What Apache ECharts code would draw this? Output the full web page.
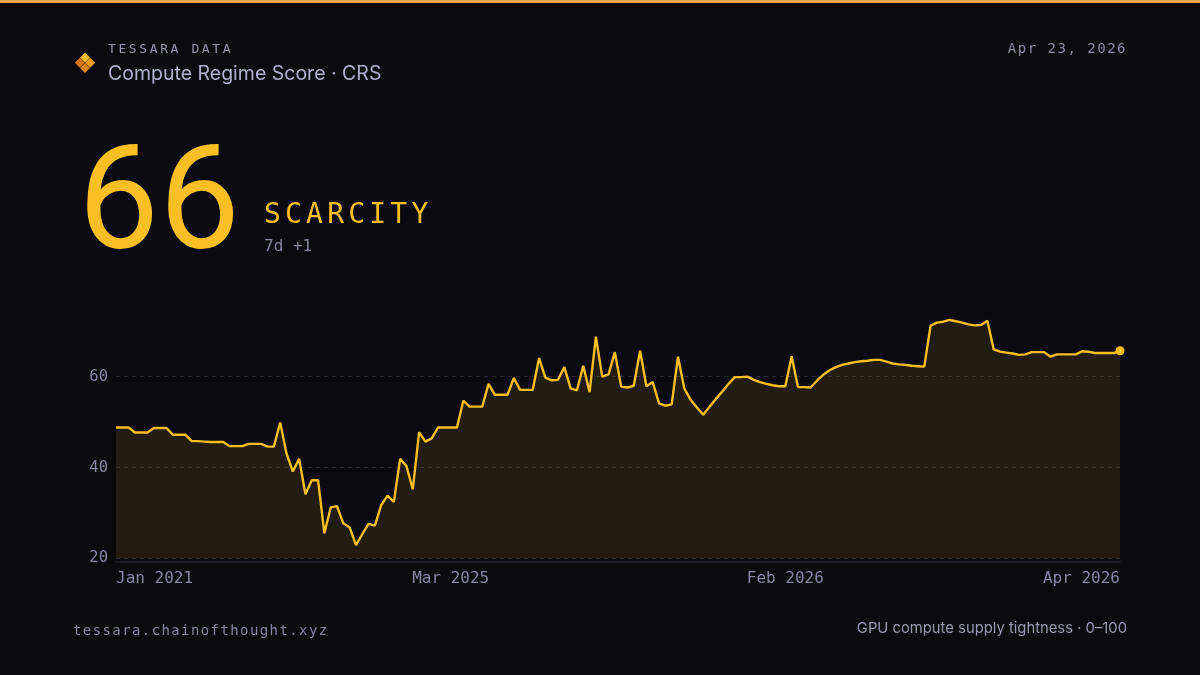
<!DOCTYPE html>
<html>
<head>
<meta charset="utf-8">
<script src="https://cdn.jsdelivr.net/npm/echarts@6/dist/echarts.min.js"></script>
<style>
  html, body { margin: 0; padding: 0; background: #0a0a0f; }
  #wrap { position: relative; width: 1200px; height: 675px; background: #0a0a0f; overflow: hidden; }
  #chart { position: absolute; left: 0; top: 0; width: 1200px; height: 675px; }
  .t { position: absolute; white-space: nowrap; line-height: 1; }
  .mono { font-family: "DejaVu Sans Mono", "Liberation Mono", monospace; }
  .sans { font-family: Inter, "Noto Sans", sans-serif; }
</style>
</head>
<body>
<div id="wrap">
  <div id="chart"></div>
  <div style="position:absolute;left:0;top:0;width:1200px;height:3px;background:#eaa84a;"></div>
  <div class="t mono" style="left:108px;top:42px;font-size:13px;letter-spacing:2.6px;color:#9595ad;">TESSARA DATA</div>
  <div class="t sans" style="left:108px;top:64px;font-size:19.5px;color:#b1b1cf;">Compute Regime Score · CRS</div>
  <div class="t mono" style="right:73px;top:41px;font-size:14px;letter-spacing:1.5px;color:#8b8ba3;">Apr 23, 2026</div>
  <div class="t" style="left:78px;top:127px;font-family:Roboto, 'Liberation Sans', sans-serif;font-weight:400;font-size:144px;color:#fbbf24;">66</div>
  <div class="t mono" style="left:264px;top:200px;font-size:28px;letter-spacing:4.2px;color:#fbbf24;">SCARCITY</div>
  <div class="t mono" style="left:264px;top:238px;font-size:16px;color:#8585a0;">7d +1</div>
  <div class="t mono" style="left:73px;top:623px;font-size:14px;letter-spacing:1.4px;color:#8585a0;">tessara.chainofthought.xyz</div>
  <div class="t sans" style="right:73px;top:621px;font-size:14.8px;color:#9a9ab2;">GPU compute supply tightness · 0–100</div>
</div>
<script>
// score readings, one per sample
var scores = [
  48.8, 48.8, 48.8, 47.7, 47.7, 47.7, 48.7, 48.7, 48.7, 47.2,
  47.2, 47.2, 45.8, 45.8, 45.7, 45.6, 45.6, 45.6, 44.7, 44.7,
  44.7, 45.2, 45.2, 45.2, 44.6, 44.6, 49.9, 43.1, 39.1, 41.9,
  34.1, 37.2, 37.2, 25.5, 31.2, 31.5, 27.7, 26.8, 22.9, 25.3,
  27.6, 27.2, 31.7, 33.8, 32.4, 41.9, 40.3, 35.2, 47.8, 45.7,
  46.4, 48.8, 48.8, 48.8, 48.8, 54.7, 53.4, 53.4, 53.4, 58.4,
  56.0, 56.0, 56.0, 59.7, 57.1, 57.1, 57.1, 64.1, 59.8, 59.2,
  59.3, 62.1, 57.4, 57.0, 62.4, 56.6, 68.8, 60.0, 60.5, 65.4,
  57.8, 57.6, 58.0, 65.7, 57.9, 58.8, 54.1, 53.6, 53.9, 64.4,
  57.4, 54.9, 53.2, 51.6, 53.4, 55.1, 56.7, 58.4, 59.9, 59.9,
  60.0, 59.3, 58.8, 58.4, 58.1, 57.9, 57.9, 64.5, 57.7, 57.7,
  57.6, 59.1, 60.4, 61.4, 62.1, 62.6, 62.9, 63.2, 63.4, 63.5,
  63.7, 63.7, 63.3, 62.9, 62.7, 62.6, 62.4, 62.3, 62.2, 71.2,
  71.9, 72.1, 72.5, 72.2, 71.9, 71.5, 71.3, 71.4, 72.3, 66.0,
  65.5, 65.3, 65.1, 64.8, 64.9, 65.4, 65.4, 65.4, 64.4, 64.9,
  64.9, 64.9, 64.9, 65.6, 65.5, 65.2, 65.2, 65.2, 65.2, 65.7
];

// which samples get a date label, and the label text
var tickIdx = [0, 53, 106, 159];
var tickText = ["Jan 2021", "Mar 2025", "Feb 2026", "Apr 2026"];

var yMin = 20;
var yMax = 76;
var yStep = 20;

var amber = "#fbbf24";
var labelColor = "#8787a3";
var monoFont = "DejaVu Sans Mono";

var categories = [];
for (var i = 0; i < scores.length; i++) {
    categories.push(String(i));
}
var last = scores.length - 1;

var chart = echarts.init(document.getElementById("chart"), null, {renderer: "canvas"});

option = {
    backgroundColor: "transparent",
    animation: false,
    grid: {left: 116, right: 80, top: 304, bottom: 116.7},
    xAxis: {
        type: "category",
        data: categories,
        boundaryGap: false,
        offset: 3,
        axisLine: {lineStyle: {color: "#1c1c27", width: 2}},
        axisTick: {show: false},
        splitLine: {show: false},
        axisLabel: {
            color: labelColor,
            fontFamily: monoFont,
            fontSize: 16,
            margin: 10,
            alignMinLabel: "left",
            alignMaxLabel: "right",
            interval: function (index) {
                return tickIdx.indexOf(index) >= 0;
            },
            formatter: function (value, index) {
                var k = tickIdx.indexOf(index);
                return k >= 0 ? tickText[k] : "";
            }
        }
    },
    yAxis: {
        type: "value",
        min: yMin,
        max: yMax,
        interval: yStep,
        axisLine: {show: false},
        axisTick: {show: false},
        axisLabel: {
            color: labelColor,
            fontFamily: monoFont,
            fontSize: 15.5,
            margin: 8,
            showMaxLabel: false,
            verticalAlign: "middle",
            padding: [2, 0, 0, 0]
        },
        splitLine: {
            lineStyle: {
                color: ["#2a2a36", "#2a2a36", "#2a2a36", "rgba(0,0,0,0)"],
                type: [4, 4],
                width: 1
            }
        }
    },
    series: [{
        type: "line",
        data: scores,
        symbol: "none",
        lineStyle: {color: amber, width: 2.4},
        areaStyle: {color: "rgba(251,191,36,0.14)"},
        z: 2
    }, {
        type: "scatter",
        data: [[last, scores[last]]],
        symbolSize: 9,
        itemStyle: {color: amber, opacity: 1},
        z: 3
    }],
    graphic: [
        {type: "polygon", shape: {points: [[85, 52.5], [90, 57.5], [85, 62.5], [80, 57.5]]}, style: {fill: "#f7bd2c"}},
        {type: "polygon", shape: {points: [[79.8, 57.8], [84.8, 62.8], [79.8, 67.8], [74.8, 62.8]]}, style: {fill: "#d4750f"}},
        {type: "polygon", shape: {points: [[90.2, 57.8], [95.2, 62.8], [90.2, 67.8], [85.2, 62.8]]}, style: {fill: "#ea9a1f"}},
        {type: "polygon", shape: {points: [[85, 63.1], [90, 68.1], [85, 73.1], [80, 68.1]]}, style: {fill: "#dc8416"}}
    ]
};

chart.setOption(option);
</script>
</body>
</html>
